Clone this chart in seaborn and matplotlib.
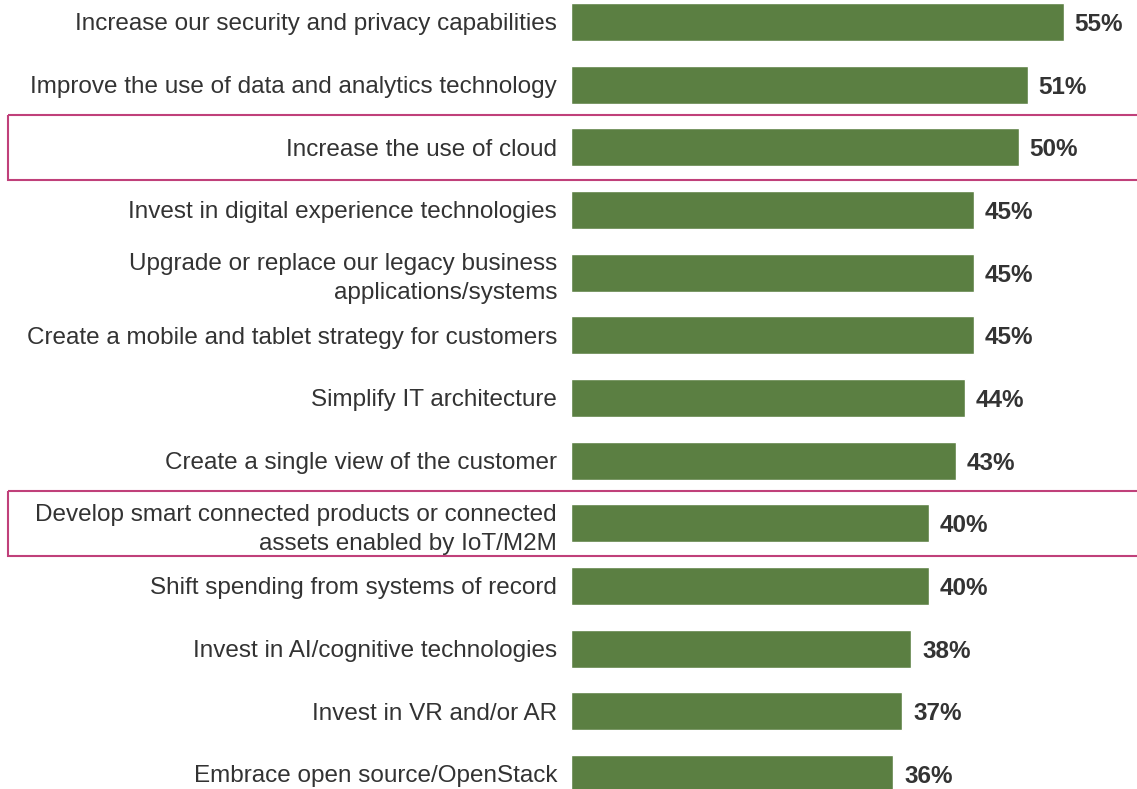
import numpy as np
import pandas as pd
import matplotlib
matplotlib.use("Agg")
import matplotlib.pyplot as plt
import matplotlib.transforms as mtransforms
from matplotlib.patches import Rectangle
import seaborn as sns

labels = [
    "Increase our security and privacy capabilities",
    "Improve the use of data and analytics technology",
    "Increase the use of cloud",
    "Invest in digital experience technologies",
    "Upgrade or replace our legacy business\napplications/systems",
    "Create a mobile and tablet strategy for customers",
    "Simplify IT architecture",
    "Create a single view of the customer",
    "Develop smart connected products or connected\nassets enabled by IoT/M2M",
    "Shift spending from systems of record",
    "Invest in AI/cognitive technologies",
    "Invest in VR and/or AR",
    "Embrace open source/OpenStack",
]
values = [55, 51, 50, 45, 45, 45, 44, 43, 40, 40, 38, 37, 36]
highlighted = [2, 8]

bar_color = "#5b7f42"
text_color = "#333333"
box_color = "#c0407a"

sns.set_theme(style="white")
plt.rcParams["font.family"] = ["Liberation Sans", "DejaVu Sans"]

df = pd.DataFrame({"item": labels, "pct": values})

fig = plt.figure(figsize=(11.37, 7.89), dpi=100)
ax = fig.add_axes([571 / 1137, 0, 1 - 571 / 1137, 1])

sns.barplot(data=df, y="item", x="pct", orient="h", color=bar_color,
            saturation=1, width=0.61, ax=ax)

ax.set_xlim(0, 63.2)
ax.set_ylim(12.24, -0.351)
ax.set_xlabel("")
ax.set_ylabel("")
ax.set_xticks([])
sns.despine(ax=ax, left=True, bottom=True)
ax.tick_params(axis="y", length=0, pad=10)
for t in ax.get_yticklabels():
    t.set_fontsize(17.5)
    t.set_color(text_color)
    t.set_multialignment("right")
    t.set_linespacing(1.42)

for i, v in enumerate(values):
    ax.text(v + 1.2, i, f"{v}%", va="center_baseline", ha="left", fontsize=17.5,
            fontweight="bold", color=text_color)

# pink outline boxes around the two highlighted rows, open past the right edge
trans = mtransforms.blended_transform_factory(fig.transFigure, ax.transData)
for i in highlighted:
    r = Rectangle((8 / 1137, i - 0.52), 1.05, 1.04, transform=trans,
                  fill=False, edgecolor=box_color, linewidth=1.5, clip_on=False)
    fig.add_artist(r)

fig.savefig("out.png", dpi=100)
